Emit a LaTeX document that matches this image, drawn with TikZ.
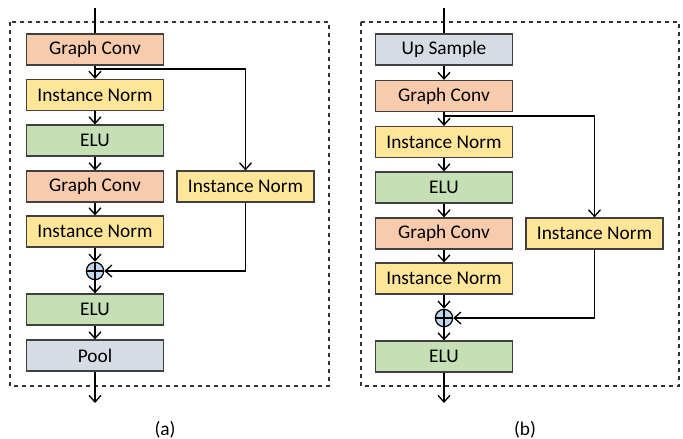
\documentclass[tikz,border=0pt]{standalone}
\usepackage{fontspec}
\setmainfont{Carlito}
\usetikzlibrary{arrows.meta}
\definecolor{convc}{HTML}{F8CBAD}
\definecolor{normc}{HTML}{FFE699}
\definecolor{eluc}{HTML}{C5E0B4}
\definecolor{poolc}{HTML}{D6DCE4}
\definecolor{sumc}{HTML}{BDD7EE}
\definecolor{edgec}{HTML}{404040}
\begin{document}
\begin{tikzpicture}[x=0.75pt,y=-0.75pt,
  layer/.style={draw=edgec,line width=0.9pt,minimum width=102.75pt,minimum height=23.25pt,inner sep=0pt,font=\fontsize{14.5}{16}\selectfont},
  conv/.style={layer,fill=convc},
  norm/.style={layer,fill=normc},
  elu/.style={layer,fill=eluc},
  pool/.style={layer,fill=poolc},
  adder/.style={circle,draw=black,line width=0.9pt,fill=sumc,minimum size=13pt,inner sep=0pt,
    path picture={\draw[line width=0.8pt] (path picture bounding box.north) -- (path picture bounding box.south)
      (path picture bounding box.west) -- (path picture bounding box.east);}},
  frame/.style={draw=black!80,dashed,line width=0.8pt},
  flow/.style={draw=black,line width=1pt,-{Straight Barb[length=5pt,width=9pt]}},
  line/.style={draw=black,line width=1pt},
  caption/.style={font=\fontsize{14.5}{16}\selectfont}]
\useasboundingbox (0,0) rectangle (683,439);

% ---------- block (a) ----------
\draw[frame] (10,22) rectangle (329,386);
\coordinate (ain) at (95,8);
\node[conv] (a1) at (95,49.5) {Graph Conv};
\node[norm] (a2) at (95,95) {Instance Norm};
\node[elu]  (a3) at (95,140.5) {ELU};
\node[conv] (a4) at (95,186.5) {Graph Conv};
\node[norm] (a5) at (95,231.5) {Instance Norm};
\node[adder] (as) at (95,271) {};
\node[elu]  (a6) at (95,309.5) {ELU};
\node[pool] (a7) at (95,355.5) {Pool};
\coordinate (aout) at (95,403);
\node[norm] (ar) at (245.5,186.5) {Instance Norm};
\coordinate (abr) at (95,69);

\draw[line] (ain) -- (a1.north);
\draw[flow] (a1) -- (a2);
\draw[flow] (a2) -- (a3);
\draw[flow] (a3) -- (a4);
\draw[flow] (a4) -- (a5);
\draw[flow] (a5) -- (as);
\draw[flow] (as) -- (a6);
\draw[flow] (a6) -- (a7);
\draw[flow] (a7) -- (aout);
\draw[flow] (abr) -| (ar.north);
\draw[flow] (ar.south) |- (as.east);
\node[caption] (alab) at (165,430) {(a)};

% ---------- block (b) ----------
\draw[frame] (361,22) rectangle (679,386);
\coordinate (bin) at (444,8);
\node[pool] (b1) at (444,49.5) {Up Sample};
\node[conv] (b2) at (444,96) {Graph Conv};
\node[norm] (b3) at (444,142) {Instance Norm};
\node[elu]  (b4) at (444,187.5) {ELU};
\node[conv] (b5) at (444,233.5) {Graph Conv};
\node[norm] (b6) at (444,278.5) {Instance Norm};
\node[adder] (bs) at (444,318) {};
\node[elu]  (b7) at (444,356.5) {ELU};
\coordinate (bout) at (444,403);
\node[norm] (br) at (594.5,233.5) {Instance Norm};
\coordinate (bbr) at (444,116);

\draw[line] (bin) -- (b1.north);
\draw[flow] (b1) -- (b2);
\draw[flow] (b2) -- (b3);
\draw[flow] (b3) -- (b4);
\draw[flow] (b4) -- (b5);
\draw[flow] (b5) -- (b6);
\draw[flow] (b6) -- (bs);
\draw[flow] (bs) -- (b7);
\draw[flow] (b7) -- (bout);
\draw[flow] (bbr) -| (br.north);
\draw[flow] (br.south) |- (bs.east);
\node[caption] (blab) at (525,430) {(b)};
\end{tikzpicture}
\end{document}
